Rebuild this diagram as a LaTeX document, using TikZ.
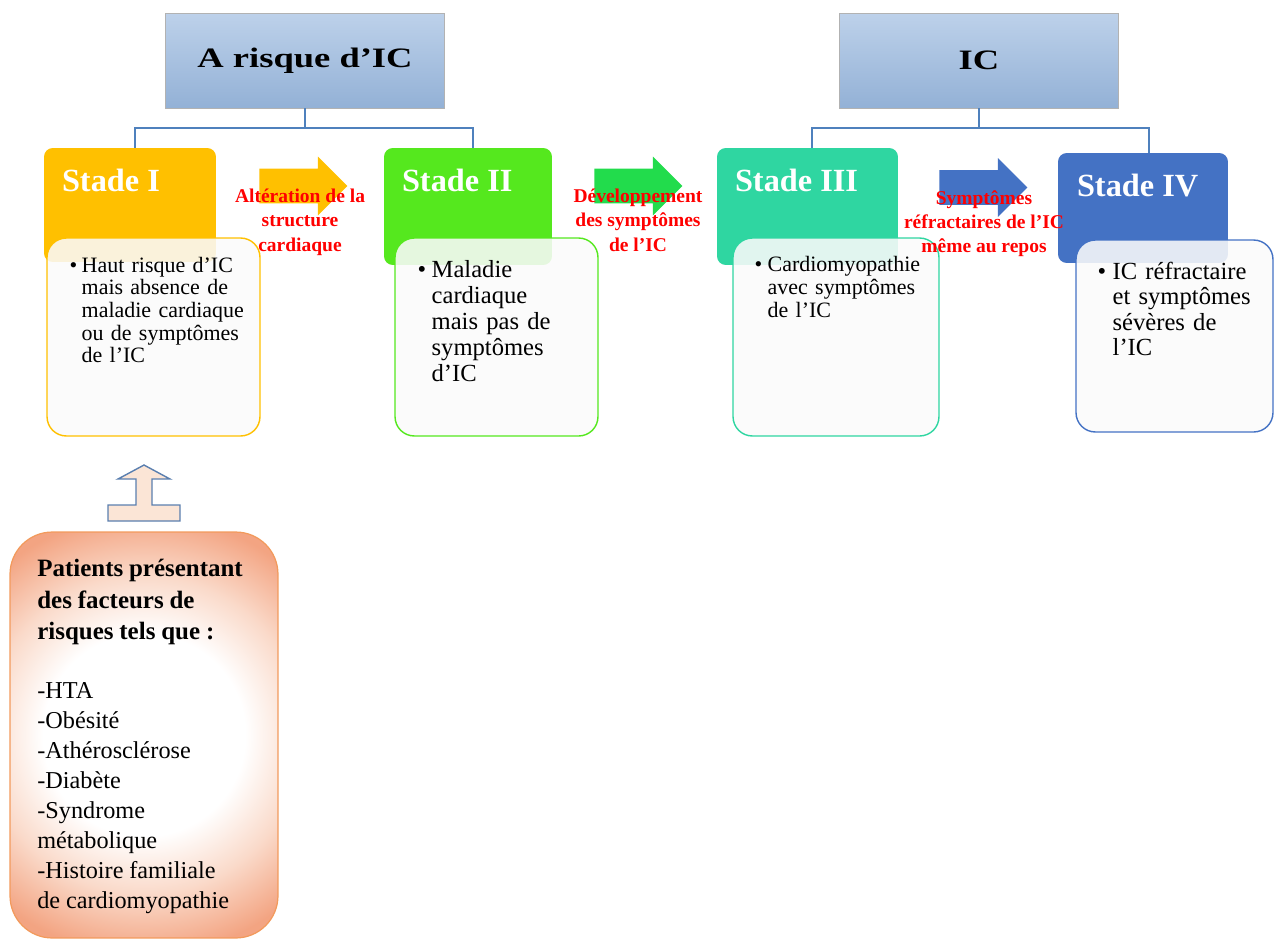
\documentclass[tikz,border=0pt]{standalone}
\usepackage{fontspec}
\setmainfont{Liberation Serif}
\usepackage{xcolor}
\usepackage{graphicx}
\usepackage{tikz}
\usetikzlibrary{
    shapes,
    shapes.arrows,
    positioning,
    calc
}
\definecolor{stageone}{HTML}{FFC000}
\definecolor{stagetwo}{HTML}{55E81E}
\definecolor{stagethree}{HTML}{2FD6A1}
\definecolor{stagefour}{HTML}{4472C4}
\definecolor{arrowgreen}{HTML}{22DC4C}
\definecolor{headtop}{HTML}{BDD1EA}
\definecolor{headbottom}{HTML}{93B1D6}
\definecolor{linkblue}{HTML}{4F81BD}
\definecolor{riskedge}{HTML}{F3A482}
\definecolor{riskmid}{HTML}{FADACA}
\definecolor{riskborder}{HTML}{F29A5C}
\definecolor{upfill}{HTML}{FBE5D6}
\definecolor{updraw}{HTML}{5A7FAF}
\pgfdeclareradialshading{riskglow}{\pgfpoint{0bp}{0bp}}{
    color(0bp)=(white); color(11.5bp)=(white); color(18bp)=(riskmid); color(25bp)=(riskedge); color(50bp)=(riskedge)}
\tikzset{
  header/.style = {
      draw=gray!60,
      top color=headtop,
      bottom color=headbottom,
      minimum width=5.58cm,
      minimum height=1.9cm,
      font=\fontsize{16pt}{19pt}\selectfont\bfseries
  },
  stagebox/.style = {
      rounded corners=5pt,
      inner sep=0pt
  },
  detailbox/.style = {
      draw,
      line width=0.8pt,
      rounded corners=11pt,
      fill=white!98!black,
      fill opacity=0.88,
      text opacity=1,
      inner sep=0pt
  },
  stagetitle/.style = {
      text=white,
      anchor=base west,
      inner sep=0pt,
      font=\fontsize{18.4pt}{22pt}\selectfont\bfseries
  },
  bullet/.style = {
      anchor=base west,
      inner sep=0pt
  },
  detailtext/.style = {
      anchor=base west,
      align=left,
      text width=3.8cm,
      inner sep=0pt
  },
  steplabel/.style = {
      text=red,
      anchor=north,
      align=center,
      inner sep=0pt,
      font=\fontsize{11.1pt}{13.7pt}\selectfont\bfseries
  },
  blockarrow/.style = {
      single arrow,
      anchor=tail,
      inner xsep=0pt,
      inner ysep=0.34cm,
      single arrow head extend=0.24cm,
      minimum height=1.76cm
  },
  riskbox/.style = {
      draw=riskborder,
      line width=0.7pt,
      rounded corners=24pt,
      fill=riskedge,
      path picture={\shade[shading=riskglow] (path picture bounding box.center) circle (4.4cm);}
  },
  tree/.style = {
      draw=linkblue,
      line width=1pt
  }
}

\begin{document}
\begin{tikzpicture}[x=0.02cm, y=-0.02cm]
    \useasboundingbox (0,0) rectangle (1279,941);
    % Headers
    \node[header] (h1) at (305,60.5) {\scalebox{1.3}[1]{A risque d’IC}};
    \node[header] (h2) at (979,60.5) {\scalebox{1.3}[1]{IC}};
    % Stages
    \node[stagebox, fill=stageone, minimum width=3.44cm, minimum height=2.28cm] (s1) at (130,205) {};
    \node[stagebox, fill=stagetwo, minimum width=3.36cm, minimum height=2.34cm] (s2) at (468,206.5) {};
    \node[stagebox, fill=stagethree, minimum width=3.62cm, minimum height=2.34cm] (s3) at (807.5,206.5) {};
    \node[stagebox, fill=stagefour, minimum width=3.4cm, minimum height=2.2cm] (s4) at (1143,208) {};
    \node[stagetitle] (t1) at ([xshift=0.36cm, yshift=-0.88cm]s1.north west) {Stade I};
    \node[stagetitle] (t2) at ([xshift=0.36cm, yshift=-0.88cm]s2.north west) {Stade II};
    \node[stagetitle] (t3) at ([xshift=0.36cm, yshift=-0.88cm]s3.north west) {Stade III};
    \node[stagetitle] (t4) at ([xshift=0.38cm, yshift=-0.88cm]s4.north west) {Stade IV};
    % Tree lines
    \draw[tree] (h1.south) -- ++(0,20) coordinate (bus1);
    \draw[tree] (bus1) -| ([xshift=0.1cm]s1.north);
    \draw[tree] (bus1) -| ([xshift=0.1cm]s2.north);
    \draw[tree] (h2.south) -- ++(0,20) coordinate (bus2);
    \draw[tree] (bus2) -| ([xshift=0.09cm]s3.north);
    \draw[tree] (bus2) -| ([xshift=0.12cm]s4.north);
    % Details
    \node[detailbox, draw=stageone, minimum width=4.26cm, minimum height=3.96cm] (c1) at (153.5,337) {};
    \node[detailbox, draw=stagetwo, minimum width=4.06cm, minimum height=3.96cm] (c2) at (496.5,337) {};
    \node[detailbox, draw=stagethree, minimum width=4.12cm, minimum height=3.96cm] (c3) at (836,337) {};
    \node[detailbox, draw=stagefour, minimum width=3.94cm, minimum height=3.84cm] (c4) at (1174.5,336) {};
    \node[bullet, font=\fontsize{12.5pt}{12.9pt}\selectfont] (b1) at ([xshift=0.46cm, yshift=-0.7cm]c1.north west) {\textbullet};
    \node[detailtext, font=\fontsize{12.5pt}{12.9pt}\selectfont] (d1) at ([xshift=0.24cm]b1.base west)
        {Haut risque d’IC\\mais absence de\\maladie cardiaque\\ou de symptômes\\de l’IC};
    \node[bullet, font=\fontsize{14pt}{14.8pt}\selectfont] (b2) at ([xshift=0.46cm, yshift=-0.8cm]c2.north west) {\textbullet};
    \node[detailtext, font=\fontsize{14pt}{14.8pt}\selectfont] (d2) at ([xshift=0.28cm]b2.base west)
        {Maladie\\cardiaque\\mais pas de\\symptômes\\d’IC};
    \node[bullet, font=\fontsize{12.5pt}{13.1pt}\selectfont] (b3) at ([xshift=0.44cm, yshift=-0.68cm]c3.north west) {\textbullet};
    \node[detailtext, font=\fontsize{12.5pt}{13.1pt}\selectfont] (d3) at ([xshift=0.26cm]b3.base west)
        {Cardiomyopathie\\avec symptômes\\de l’IC};
    \node[bullet, font=\fontsize{14pt}{14.5pt}\selectfont] (b4) at ([xshift=0.44cm, yshift=-0.8cm]c4.north west) {\textbullet};
    \node[detailtext, font=\fontsize{14pt}{14.5pt}\selectfont] (d4) at ([xshift=0.3cm]b4.base west)
        {IC réfractaire\\et symptômes\\sévères de\\l’IC};
    % Arrows
    \node[blockarrow, fill=stageone] (a1) at (259,186) {};
    \node[blockarrow, fill=arrowgreen] (a2) at (594,186) {};
    \node[blockarrow, fill=stagefour] (a3) at (939,187.5) {};
    \node[steplabel] (l1) at (300,189) {Altération de la\\structure\\cardiaque};
    \node[steplabel] (l2) at (638,189) {Développement\\des symptômes\\de l’IC};
    \node[steplabel] (l3) at (984,190) {Symptômes\\réfractaires de l’IC\\même au repos};
    % Risk factors
    \node[riskbox, minimum width=5.36cm, minimum height=8.12cm] (risk) at (144,735) {};
    \draw[draw=updraw, fill=upfill, line width=0.8pt] (144,465) -- (170,479) -- (152,479) -- (152,505)
        -- (180,505) -- (180,521) -- (108,521) -- (108,505) -- (136,505) -- (136,479) -- (118,479) -- cycle;
    \node[anchor=north west, align=left, text width=5cm, inner sep=0pt] (rtext) at (37,559)
        {{\fontsize{14.2pt}{18pt}\selectfont\bfseries Patients présentant\\des facteurs de\\risques tels que :\par}
         \vspace{16.6pt}
         {\fontsize{13.8pt}{17pt}\selectfont -HTA\\-Obésité\\-Athérosclérose\\-Diabète\\-Syndrome\\métabolique\\-Histoire familiale\\de cardiomyopathie\par}};
\end{tikzpicture}
\end{document}
